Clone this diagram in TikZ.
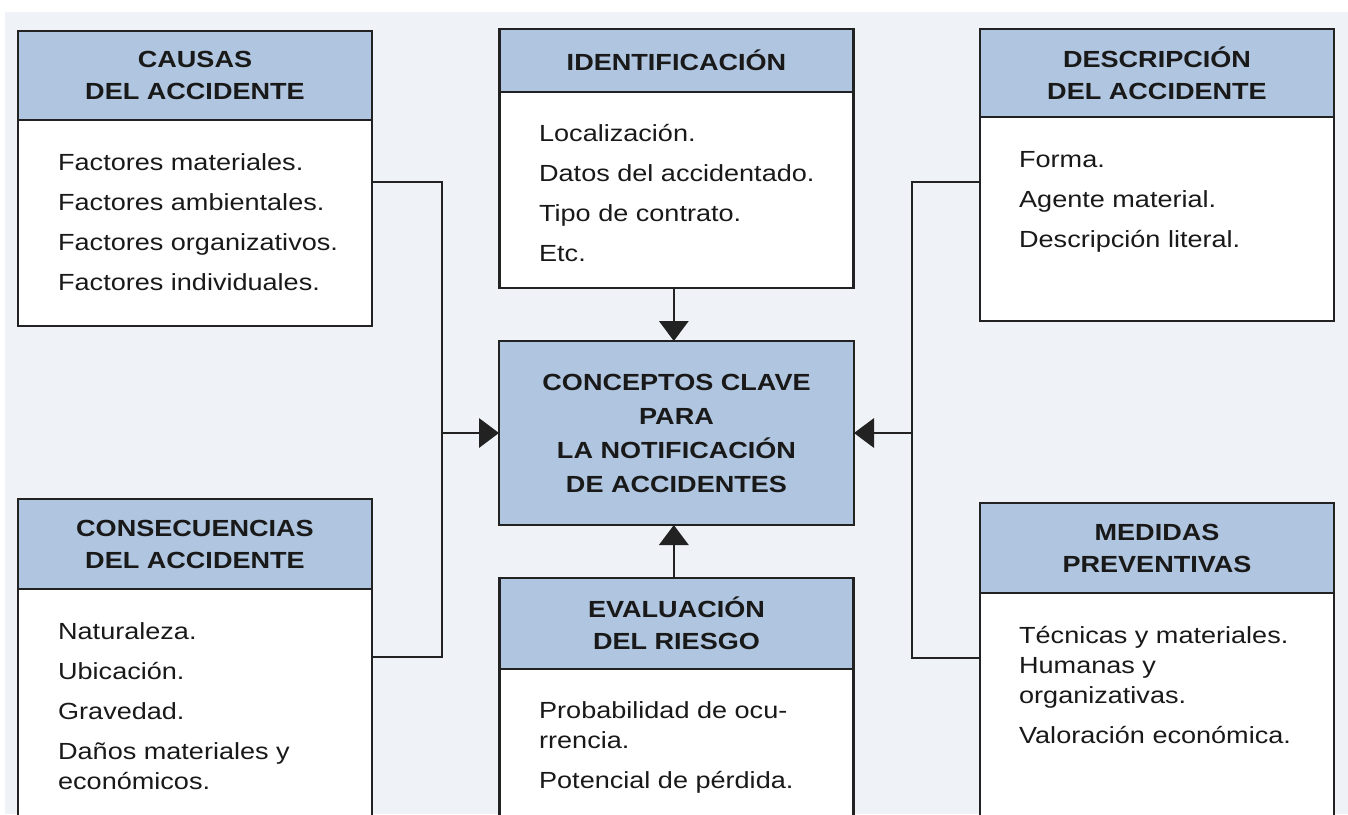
\documentclass[tikz,border=0pt]{standalone}
\usepackage{fontspec}
\setmainfont[FakeStretch=1.16]{Liberation Sans}
\usetikzlibrary{arrows.meta}

\definecolor{headblue}{RGB}{176,197,223}
\definecolor{bgblue}{RGB}{239,243,248}
\definecolor{inkgray}{RGB}{34,34,34}

\tikzset{every picture/.style={line width=1.7pt}}
\tikzset{
  headbox/.style={draw=inkgray, fill=headblue, anchor=north west, minimum width=265.5pt, inner sep=0pt, outer sep=0pt, align=center, text=black!90, font=\bfseries\fontsize{17.5}{24}\selectfont},
  bodybox/.style={draw=inkgray, fill=white, anchor=north west, minimum width=265.5pt, inner sep=0pt, outer sep=0pt},
  itemtext/.style={anchor=north west, inner sep=0pt, align=left, text=black!90, font=\fontsize{17.5}{22.5}\selectfont},
  conn/.style={draw=inkgray},
  arrowto/.style={-{Triangle[length=15pt,width=22pt]}}
}

\begin{document}
\begin{tikzpicture}[x=0.75pt,y=0.75pt,yscale=-1,xscale=1]
%set diagram to 1348 x 814
\path[use as bounding box] (0,0) rectangle (1348,814);
\clip (0,0) rectangle (1348,814);
\fill[white] (0,0) rectangle (1348,814);
\fill[bgblue] (5,12) rectangle (1348,814);

%Box: causas
\node (causashead) [headbox, minimum height=66.75pt] at (18,31) {CAUSAS\\DEL ACCIDENTE};
\node (causasbody) [bodybox, minimum height=154.5pt] at (causashead.south west) {};
%Box: identificacion
\node (identhead) [headbox, minimum height=47.25pt] at (499.5,29) {IDENTIFICACIÓN};
\node (identbody) [bodybox, minimum height=147pt] at (identhead.south west) {};
%Box: descripcion
\node (deschead) [headbox, minimum height=66pt] at (980,29) {DESCRIPCIÓN\\DEL ACCIDENTE};
\node (descbody) [bodybox, minimum height=153pt] at (deschead.south west) {};
%Box: conceptos (centre)
\node (concepts) [headbox, anchor=center, minimum width=266.25pt, minimum height=138pt, font=\bfseries\fontsize{17.5}{25.5}\selectfont] at (676.5,433) {CONCEPTOS CLAVE\\PARA\\LA NOTIFICACIÓN\\DE ACCIDENTES};
%Box: consecuencias
\node (consechead) [headbox, minimum height=67.5pt] at (18,499) {CONSECUENCIAS\\DEL ACCIDENTE};
\node (consecbody) [bodybox, minimum height=184pt] at (consechead.south west) {};
%Box: evaluacion
\node (evalhead) [headbox, minimum height=68.25pt] at (499.5,578) {EVALUACIÓN\\DEL RIESGO};
\node (evalbody) [bodybox, minimum height=130pt] at (evalhead.south west) {};
%Box: medidas
\node (medhead) [headbox, minimum height=67.5pt] at (980,503) {MEDIDAS\\PREVENTIVAS};
\node (medbody) [bodybox, minimum height=181pt] at (medhead.south west) {};

% Text Node
\node (causastxt) [itemtext] at (57,152) {Factores materiales.\\[7.5pt]Factores ambientales.\\[7.5pt]Factores organizativos.\\[7.5pt]Factores individuales.};
% Text Node
\node (identtxt) [itemtext] at (538,123) {Localización.\\[7.5pt]Datos del accidentado.\\[7.5pt]Tipo de contrato.\\[7.5pt]Etc.};
% Text Node
\node (desctxt) [itemtext] at (1018,150) {Forma.\\[7.5pt]Agente material.\\[7.5pt]Descripción literal.};
% Text Node
\node (consectxt) [itemtext] at (57,621) {Naturaleza.\\[7.5pt]Ubicación.\\[7.5pt]Gravedad.\\[7.5pt]Daños materiales y\\económicos.};
% Text Node
\node (evaltxt) [itemtext] at (538,700) {Probabilidad de ocu-\\rrencia.\\[7.5pt]Potencial de pérdida.};
% Text Node
\node (medtxt) [itemtext] at (1018,625) {Técnicas y materiales.\\Humanas y\\organizativas.\\[7.5pt]Valoración económica.};

%Connectors
\coordinate (ljoin) at (442,433);
\coordinate (rjoin) at (912,433);
\draw[conn] ([yshift=46.5pt]causasbody.north east) -| (ljoin) |- ([yshift=51pt]consecbody.north east);
\draw[conn, arrowto] (ljoin) -- (concepts.west);
\draw[conn] ([yshift=48.75pt]descbody.north west) -| (rjoin) |- ([yshift=48.75pt]medbody.north west);
\draw[conn, arrowto] (rjoin) -- (concepts.east);
\draw[conn, arrowto] ([xshift=-2pt]identbody.south) -- ([xshift=-2pt]concepts.north);
\draw[conn, arrowto] ([xshift=-2pt]evalhead.north) -- ([xshift=-2pt]concepts.south);
\end{tikzpicture}
\end{document}
